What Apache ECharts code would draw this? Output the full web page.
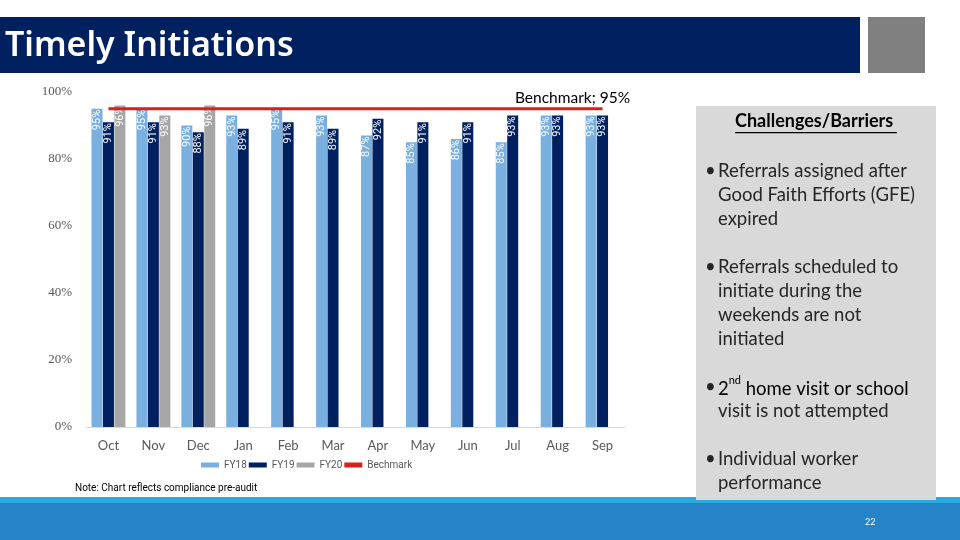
<!DOCTYPE html>
<html><head><meta charset="utf-8">
<script src="https://cdn.jsdelivr.net/npm/echarts@6/dist/echarts.min.js"></script>
<style>html,body{margin:0;padding:0;background:#fff}#c{width:960px;height:540px}</style>
</head><body><div id="c"></div>
<script>
const categories = ['Oct','Nov','Dec','Jan','Feb','Mar','Apr','May','Jun','Jul','Aug','Sep'];
const fy18 = [95,95,90,93,95,93,87,85,86,85,93,93];
const fy19 = [91,91,88,89,91,89,92,91,91,93,93,93];
const fy20 = [96,93,96,null,null,null,null,null,null,null,null,null];
const benchmark = [95,95,95,95,95,95,95,95,95,95,95,95];
const yTicks = [0,20,40,60,80,100];

const chart = echarts.init(document.getElementById('c'));
const barLabel = {
  show: true, position: 'insideTop', rotate: 90, align: 'right', verticalAlign: 'middle',
  distance: 1, color: '#fff', fontSize: 11,
  fontFamily: "'Liberation Sans Narrow', Roboto, sans-serif",
  formatter: p => p.value == null ? '' : p.value + '%'
};
const txt = "Lato, 'Noto Sans', sans-serif";
const body = '18.5px ' + txt;
function bulletText(y, lines) {
  return lines.map((l, i) => ({
    type: 'text', left: 718, top: y + i * 24, z: 10,
    style: { text: l, font: body, fill: '#262626' }
  }));
}
function bullet(y) {
  return { type: 'text', left: 705, top: y, z: 10, style: { text: '•', font: body, fill: '#262626' } };
}
chart.setOption({
  animation: false,
  grid: { left: 86, right: 335, top: 92, bottom: 113 },
  legend: {
    left: 196, top: 455, itemGap: 2, itemWidth: 18, itemHeight: 5,
    textStyle: { color: '#595959', fontSize: 10, fontFamily: "'Liberation Sans Narrow', Roboto, sans-serif" },
    data: [
      { name: 'FY18', icon: 'rect' }, { name: 'FY19', icon: 'rect' }, { name: 'FY20', icon: 'rect' },
      { name: 'Bechmark', icon: 'rect' }
    ]
  },
  xAxis: {
    type: 'category', data: categories,
    axisLine: { lineStyle: { color: '#d9d9d9' } }, axisTick: { show: false },
    axisLabel: { color: '#595959', fontSize: 13, margin: 12, fontFamily: "Lato, 'Noto Sans', sans-serif" }
  },
  yAxis: {
    type: 'value', min: 0, max: 100, interval: 20,
    axisLine: { show: false }, axisTick: { show: false }, splitLine: { show: false },
    axisLabel: { color: '#595959', fontSize: 13, margin: 14, fontFamily: "'Liberation Serif', serif",
      formatter: v => yTicks.includes(v) ? v + '%' : '' }
  },
  series: [
    { name: 'FY18', type: 'bar', data: fy18, barWidth: 11, barGap: '4%', itemStyle: { color: '#7ab0e0' }, label: barLabel },
    { name: 'FY19', type: 'bar', data: fy19, barWidth: 11, barGap: '4%', itemStyle: { color: '#002060' }, label: barLabel },
    { name: 'FY20', type: 'bar', data: fy20, barWidth: 11, barGap: '4%', itemStyle: { color: '#a6a6a6' }, label: barLabel },
    { name: 'Bechmark', type: 'line', symbol: 'circle', symbolSize: 0.01, showSymbol: true, z: 5,
      lineStyle: { color: '#d81e1e', width: 3 }, itemStyle: { color: '#d81e1e' },
      label: { show: true, position: 'top', offset: [-30, 0], distance: 3, color: '#000', fontSize: 15.5, fontFamily: txt,
        formatter: p => p.dataIndex === benchmark.length - 1 ? 'Benchmark; ' + p.value + '%' : '' },
      data: benchmark }
  ],
  graphic: [
    { type: 'rect', shape: { x: 0, y: 17, width: 860, height: 56 }, style: { fill: '#002060' } },
    { type: 'rect', shape: { x: 868, y: 17, width: 57, height: 56 }, style: { fill: '#808080' } },
    { type: 'text', left: 5, top: 29, style: { text: 'Timely Initiations', font: '600 34px "Noto Sans", sans-serif', fill: '#fff' } },
    { type: 'rect', shape: { x: 0, y: 497, width: 960, height: 43 }, style: { fill: '#2683c6' } },
    { type: 'rect', shape: { x: 0, y: 497, width: 960, height: 6 }, style: { fill: '#29abe2' } },
    { type: 'rect', shape: { x: 696, y: 106, width: 240, height: 394 }, style: { fill: '#d9d9d9' }, z: 5 },
    { type: 'text', left: 735, top: 112, z: 10,
      style: { text: 'Challenges/Barriers', font: 'bold 18px ' + txt, fill: '#000' } },
    { type: 'rect', shape: { x: 735, y: 132, width: 162, height: 1.2 }, style: { fill: '#000' }, z: 10 },
    bullet(162), ...bulletText(162, ['Referrals assigned after', 'Good Faith Efforts (GFE)', 'expired']),
    bullet(258), ...bulletText(258, ['Referrals scheduled to', 'initiate during the', 'weekends are not', 'initiated']),
    bullet(378),
    { type: 'text', left: 718, top: 375, z: 10, style: { text: '{a|2}{s|nd}{a| home visit or school}',
      rich: { a: { font: body, color: '#262626', verticalAlign: 'bottom', lineHeight: 24 },
              s: { font: '11px ' + txt, color: '#262626', verticalAlign: 'top', lineHeight: 24 } } } },
    ...bulletText(402, ['visit is not attempted']),
    bullet(450), ...bulletText(450, ['Individual worker', 'performance']),
    { type: 'text', left: 75, top: 483, style: { text: 'Note: Chart reflects compliance pre-audit', font: "10px 'Liberation Sans Narrow', Roboto, sans-serif", fill: '#000' } },
    { type: 'text', left: 865, top: 518, style: { text: '22', font: '9px ' + txt, fill: '#fff' } }
  ]
});
</script></body></html>
